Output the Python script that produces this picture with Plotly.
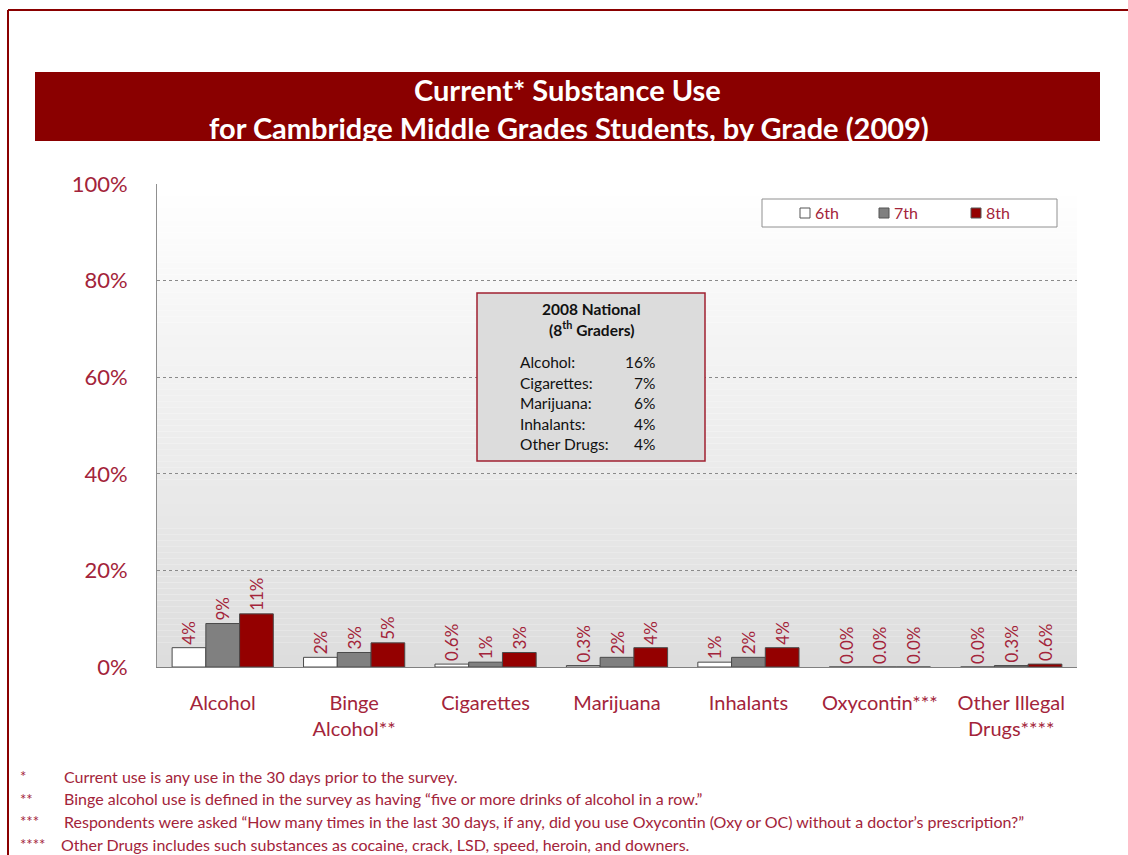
import plotly.graph_objects as go

# ---- data ----
categories = ["Alcohol", "Binge<br>Alcohol**", "Cigarettes", "Marijuana",
              "Inhalants", "Oxycontin***", "Other Illegal<br>Drugs****"]
grade_6 = [4, 2, 0.6, 0.3, 1, 0, 0]
grade_7 = [9, 3, 1, 2, 2, 0, 0.3]
grade_8 = [11, 5, 3, 4, 4, 0, 0.6]
series_names = ["6th", "7th", "8th"]

national_labels = ["Alcohol:", "Cigarettes:", "Marijuana:", "Inhalants:", "Other Drugs:"]
national_values = ["16%", "7%", "6%", "4%", "4%"]

footnote_marks = ["*", "**", "***", "****"]
footnote_texts = [
    "Current use is any use in the 30 days prior to the survey.",
    "Binge alcohol use is defined in the survey as having \u201cfive or more drinks of alcohol in a row.\u201d",
    "Respondents were asked \u201cHow many times in the last 30 days, if any, did you use Oxycontin (Oxy or OC) without a doctor\u2019s prescription?\u201d",
    "Other Drugs includes such substances as cocaine, crack, LSD, speed, heroin, and downers.",
]

# ---- styling ----
W, H = 1128, 855
PL, PR, PT, PB = 157, 1077, 184, 667  # plot area in pixels
DARK_RED = "#8a0000"
TEXT_RED = "#a3243a"
FONT = "Lato, 'Open Sans', sans-serif"


def px_x(x):
    return (x - PL) / (PR - PL)


def px_y(y):
    return (PB - y) / (PB - PT)


def fmt(v):
    return f"{v:.1f}%" if v < 1 else f"{v:.0f}%"


def note(text, x, y, size, color, xanchor="center", bold=False):
    return dict(text=f"<b>{text}</b>" if bold else text, xref="paper", yref="paper",
                x=px_x(x), y=px_y(y), xanchor=xanchor, yanchor="middle",
                showarrow=False, font=dict(color=color, size=size, family=FONT))


fill_colors = ["#ffffff", "#808080", "#940000"]
fig = go.Figure()
for name, vals, col in zip(series_names, [grade_6, grade_7, grade_8], fill_colors):
    fig.add_trace(go.Bar(
        x=categories, y=vals, name=name, showlegend=False,
        marker=dict(color=col, line=dict(color="#4a4a4a", width=1)),
        text=[fmt(v) for v in vals], textposition="outside", textangle=-90,
        textfont=dict(color=TEXT_RED, size=17, family=FONT),
        constraintext="none", cliponaxis=False,
    ))

shapes = []
# vertical gradient behind the plot area
n_bands = 80
for i in range(n_bands):
    t = i / (n_bands - 1)
    g = int(round(255 - (255 - 221) * t))
    shapes.append(dict(type="rect", xref="paper", yref="paper",
                       x0=0, x1=1, y0=1 - (i + 1) / n_bands, y1=1 - i / n_bands,
                       fillcolor=f"rgb({g},{g},{g})", line=dict(width=0), layer="below"))
# title band
shapes.append(dict(type="rect", xref="paper", yref="paper",
                   x0=px_x(35), x1=px_x(1100), y0=px_y(141), y1=px_y(72),
                   fillcolor=DARK_RED, line=dict(width=0)))
# outer frame lines
shapes.append(dict(type="line", xref="paper", yref="paper",
                   x0=px_x(8), x1=px_x(1128), y0=px_y(10), y1=px_y(10),
                   line=dict(color=DARK_RED, width=2)))
shapes.append(dict(type="line", xref="paper", yref="paper",
                   x0=px_x(8), x1=px_x(8), y0=px_y(10), y1=px_y(855),
                   line=dict(color=DARK_RED, width=2)))
# national comparison box
shapes.append(dict(type="rect", xref="paper", yref="paper",
                   x0=px_x(477), x1=px_x(705), y0=px_y(461), y1=px_y(293),
                   fillcolor="#dcdcdc", line=dict(color="#a02030", width=1.5)))
# legend box and swatches
shapes.append(dict(type="rect", xref="paper", yref="paper",
                   x0=px_x(762), x1=px_x(1057), y0=px_y(227), y1=px_y(199),
                   fillcolor="white", line=dict(color="#909090", width=1)))
legend_x = [805, 884, 976]
for lx, col in zip(legend_x, fill_colors):
    shapes.append(dict(type="rect", xref="paper", yref="paper",
                       x0=px_x(lx - 5), x1=px_x(lx + 5), y0=px_y(218), y1=px_y(208),
                       fillcolor=col, line=dict(color="#555555", width=1)))

annotations = [
    note("Current* Substance Use", 567, 89, 29, "white", bold=True),
    note("for Cambridge Middle Grades Students, by Grade (2009)", 569, 127, 29, "white", bold=True),
    note("2008 National", 591, 309, 15.5, "#111", bold=True),
    note("(8<sup>th</sup> Graders)", 591, 328, 15.5, "#111", bold=True),
]
for lx, name in zip(legend_x, series_names):
    annotations.append(note(name, lx + 8, 213, 16, TEXT_RED, xanchor="left"))
for i, (lab, val) in enumerate(zip(national_labels, national_values)):
    yy = 362 + i * 20.5
    annotations.append(note(lab, 518, yy, 15.5, "#111", xanchor="left"))
    annotations.append(note(val, 657, yy, 15.5, "#111", xanchor="right"))
for i, (mark, txt) in enumerate(zip(footnote_marks, footnote_texts)):
    yy = 776 + i * 22.7
    annotations.append(note(mark, 18, yy, 15, TEXT_RED, xanchor="left"))
    annotations.append(note(txt, 62 if i < 3 else 59, yy, 16, TEXT_RED, xanchor="left"))

fig.update_layout(
    width=W, height=H,
    margin=dict(l=PL, r=W - PR, t=PT, b=H - PB, pad=0, autoexpand=False),
    paper_bgcolor="white", plot_bgcolor="rgba(0,0,0,0)",
    barmode="group", bargap=0.23, bargroupgap=0,
    font=dict(family=FONT, color=TEXT_RED),
    shapes=shapes, annotations=annotations,
    showlegend=False,
    xaxis=dict(showgrid=False, showline=True, linecolor="#808080", linewidth=1,
               ticks="", ticklabelstandoff=18,
               tickfont=dict(size=20, color=TEXT_RED, family=FONT),
               fixedrange=True),
    yaxis=dict(range=[0, 100], tickvals=[0, 20, 40, 60, 80, 100],
               ticktext=["0%", "20%", "40%", "60%", "80%", "100%"],
               showgrid=True, gridcolor="#8a8a8a", griddash="dot", gridwidth=1,
               showline=True, linecolor="#909090", linewidth=1,
               ticks="", ticklabelstandoff=24,
               tickfont=dict(size=22, color=TEXT_RED, family=FONT),
               zeroline=False, fixedrange=True),
)

fig.write_html("out.html")
